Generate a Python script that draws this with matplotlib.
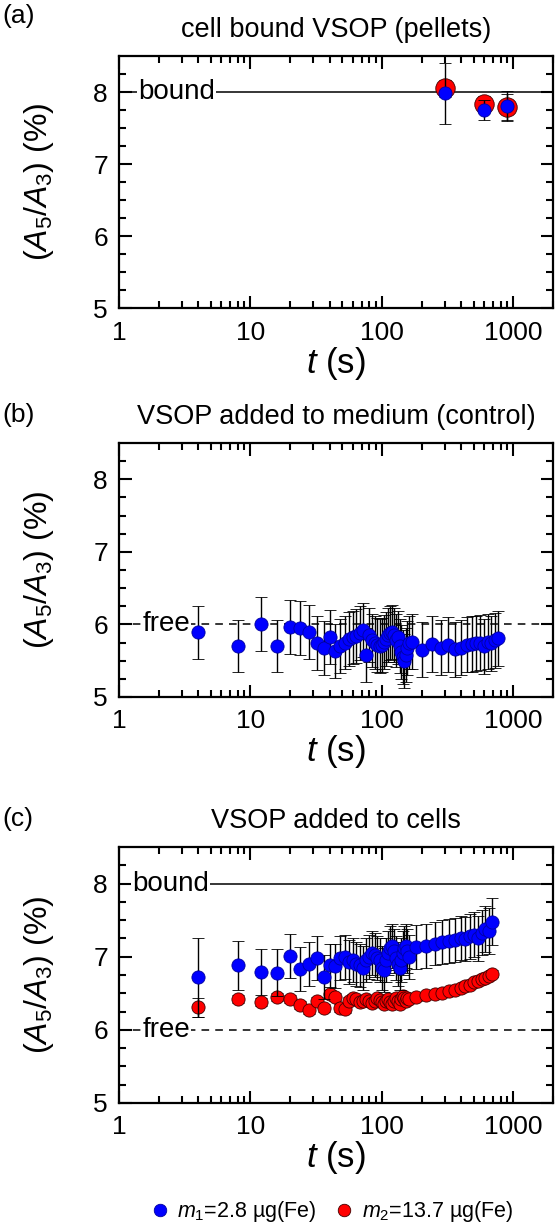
import matplotlib
matplotlib.use('Agg')
import matplotlib.pyplot as plt
from matplotlib.lines import Line2D
from matplotlib.ticker import FixedLocator, LogLocator, NullFormatter

plt.rcParams['font.family'] = ['Liberation Sans', 'DejaVu Sans']
plt.rcParams['mathtext.fontset'] = 'custom'
plt.rcParams['mathtext.rm'] = 'Liberation Sans'
plt.rcParams['mathtext.it'] = 'Liberation Sans:italic'

# ---- (a) cell bound VSOP (pellets)
t_a = [300, 600, 900]
a_m1 = [7.98, 7.75, 7.81]
a_m1_err = [0.42, 0.14, 0.21]
a_m2 = [8.05, 7.84, 7.79]
a_m2_err = [0.12, 0.10, 0.18]

# ---- (b) VSOP added to medium (control)
t_b = [4, 8, 12, 16, 20, 24, 28, 32, 36, 40, 44, 48, 52, 56, 60, 64, 68, 72, 76, 80,
       84, 88, 92, 96, 100, 104, 108, 112, 116, 120, 124, 128, 132, 136, 140, 144, 148, 152, 156, 160,
       168, 200, 240, 280, 320, 360, 400, 440, 480, 520, 560, 600, 640, 680, 720, 760]
b_m1 = [5.89, 5.70, 6.01, 5.70, 5.96, 5.95, 5.90, 5.74, 5.68, 5.83, 5.63, 5.70, 5.75, 5.80, 5.82, 5.84, 5.88, 5.92, 5.58, 5.85,
        5.78, 5.75, 5.72, 5.70, 5.72, 5.76, 5.80, 5.85, 5.88, 5.90, 5.85, 5.78, 5.82, 5.70, 5.62, 5.55, 5.50, 5.58, 5.68, 5.75,
        5.76, 5.65, 5.73, 5.68, 5.72, 5.66, 5.68, 5.72, 5.73, 5.74, 5.75, 5.70, 5.76, 5.74, 5.78, 5.81]
b_m1_err = [0.36, 0.36, 0.37, 0.36, 0.37, 0.37, 0.37, 0.37, 0.37, 0.37, 0.37, 0.37, 0.37, 0.37, 0.37, 0.37, 0.37, 0.37, 0.37, 0.37,
            0.37, 0.37, 0.37, 0.37, 0.37, 0.37, 0.37, 0.37, 0.37, 0.37, 0.37, 0.37, 0.37, 0.37, 0.37, 0.37, 0.37, 0.37, 0.37, 0.37,
            0.38, 0.38, 0.38, 0.38, 0.38, 0.38, 0.38, 0.38, 0.38, 0.38, 0.38, 0.38, 0.38, 0.38, 0.38, 0.38]

# ---- (c) VSOP added to cells
t_c = [4, 8, 12, 16, 20, 24, 28, 32, 36, 40, 44, 48, 52, 56, 60, 64, 68, 72, 76, 80,
       84, 88, 92, 96, 100, 104, 108, 112, 116, 120, 124, 128, 132, 136, 140, 144, 148, 152, 156, 160,
       180, 216, 252, 288, 324, 360, 396, 432, 468, 504, 540, 576, 612, 648, 684]
c_m1 = [6.72, 6.88, 6.79, 6.78, 7.01, 6.83, 6.90, 6.98, 6.72, 6.88, 6.87, 6.98, 7.00, 6.93, 6.95, 6.90, 6.88, 6.85, 6.95, 7.00,
        7.05, 7.02, 6.98, 6.95, 6.85, 6.82, 6.95, 7.05, 7.12, 7.15, 7.08, 6.98, 6.90, 6.85, 6.95, 7.05, 7.12, 7.15, 7.08, 7.00,
        7.13, 7.15, 7.18, 7.20, 7.21, 7.23, 7.25, 7.24, 7.28, 7.30, 7.25, 7.33, 7.38, 7.35, 7.48]
c_m1_err = [0.54, 0.33, 0.32, 0.32, 0.30, 0.30, 0.30, 0.30, 0.30, 0.30, 0.30, 0.30, 0.30, 0.30, 0.30, 0.30, 0.30, 0.30, 0.30, 0.30,
            0.30, 0.30, 0.30, 0.30, 0.30, 0.30, 0.30, 0.30, 0.30, 0.30, 0.30, 0.30, 0.30, 0.30, 0.30, 0.30, 0.30, 0.30, 0.30, 0.30,
            0.30, 0.30, 0.30, 0.30, 0.30, 0.30, 0.30, 0.30, 0.31, 0.31, 0.31, 0.31, 0.31, 0.31, 0.32]
c_m2 = [6.31, 6.42, 6.38, 6.45, 6.42, 6.34, 6.27, 6.40, 6.30, 6.49, 6.45, 6.30, 6.28, 6.40, 6.44, 6.42, 6.38, 6.40, 6.42, 6.39,
        6.37, 6.40, 6.43, 6.41, 6.38, 6.36, 6.40, 6.42, 6.38, 6.35, 6.40, 6.44, 6.40, 6.36, 6.42, 6.46, 6.43, 6.40, 6.44, 6.42,
        6.45, 6.47, 6.49, 6.51, 6.53, 6.55, 6.57, 6.60, 6.62, 6.65, 6.67, 6.69, 6.71, 6.74, 6.77]
c_m2_err = [0.13, 0.05, 0.05, 0.05, 0.05, 0.05, 0.05, 0.05, 0.05, 0.05, 0.05, 0.05, 0.05, 0.05, 0.05, 0.05, 0.05, 0.05, 0.05, 0.05,
            0.05, 0.05, 0.05, 0.05, 0.05, 0.05, 0.05, 0.05, 0.05, 0.05, 0.05, 0.05, 0.05, 0.05, 0.05, 0.05, 0.05, 0.05, 0.05, 0.05,
            0.05, 0.05, 0.05, 0.05, 0.05, 0.05, 0.05, 0.05, 0.05, 0.05, 0.05, 0.05, 0.05, 0.05, 0.05]

bound_level = 8.0
free_level = 6.0
titles = ['cell bound VSOP (pellets)', 'VSOP added to medium (control)', 'VSOP added to cells']
panel_tags = ['(a)', '(b)', '(c)']
legend_labels = [r'$m_1$=2.8 µg(Fe)', r'$m_2$=13.7 µg(Fe)']

BLUE = '#0000ff'
RED = '#ff0000'

fig = plt.figure(figsize=(5.57, 12.27), dpi=100)
W, H = 557.0, 1227.0
boxes = [(56, 308), (443, 697), (847, 1103)]  # top/bottom in px
axes = []
for top, bot in boxes:
    ax = fig.add_axes([119 / W, 1 - bot / H, 434 / W, (bot - top) / H])
    axes.append(ax)


def style(ax):
    ax.set_xscale('log')
    ax.set_xlim(1, 2000)
    ax.set_ylim(5, 8.5)
    ax.yaxis.set_major_locator(FixedLocator([5, 6, 7, 8]))
    ax.yaxis.set_minor_locator(FixedLocator([5.25, 5.5, 5.75, 6.25, 6.5, 6.75, 7.25, 7.5, 7.75, 8.25]))
    ax.xaxis.set_major_locator(FixedLocator([1, 10, 100, 1000]))
    ax.xaxis.set_minor_locator(LogLocator(base=10, subs=range(2, 10), numticks=20))
    ax.xaxis.set_minor_formatter(NullFormatter())
    ax.set_xticklabels(['1', '10', '100', '1000'])
    ax.tick_params(which='both', direction='in', top=True, right=True, width=1.5, labelsize=19)
    ax.tick_params(which='major', length=9)
    ax.tick_params(which='minor', length=5)
    ax.tick_params(axis='x', pad=9)
    ax.tick_params(axis='y', pad=8)
    for s in ax.spines.values():
        s.set_linewidth(1.6)
    ax.set_xlabel(r'$t$ (s)', fontsize=25, labelpad=0)
    ax.set_ylabel(r'$(A_5/A_3)$ (%)', fontsize=23)
    ax.yaxis.set_label_coords(-0.145, 0.5)


def ref_line(ax, y, text, x_text, ls):
    ax.axhline(y, color='black', lw=1.1, ls=ls, dashes=(5, 4) if ls == '--' else (None, None), zorder=1)
    ax.text(x_text, y, text, fontsize=20, ha='left', va='center', zorder=2,
            bbox=dict(facecolor='white', edgecolor='none', pad=0.8))


eb = dict(fmt='o', ecolor='black', elinewidth=1.0, capsize=4.5, capthick=1.0)

# (a)
ax = axes[0]
style(ax)
ref_line(ax, bound_level, 'bound', 1.4, '-')
ax.errorbar(t_a, a_m2, yerr=a_m2_err, ms=14, mfc=RED, mec='#400000', mew=0.6, zorder=3, **eb)
ax.errorbar(t_a, a_m1, yerr=a_m1_err, ms=9.5, mfc=BLUE, mec='#0000a0', mew=0.6, zorder=4, **eb)

# (b)
ax = axes[1]
style(ax)
ref_line(ax, free_level, 'free', 1.5, '--')
ax.errorbar(t_b, b_m1, yerr=b_m1_err, ms=9.5, mfc=BLUE, mec='#0000a0', mew=0.6, zorder=3, **eb)

# (c)
ax = axes[2]
style(ax)
ref_line(ax, bound_level, 'bound', 1.25, '-')
ref_line(ax, free_level, 'free', 1.5, '--')
ax.errorbar(t_c, c_m2, yerr=c_m2_err, ms=9.5, mfc=RED, mec='#400000', mew=0.6, zorder=3, **eb)
ax.errorbar(t_c, c_m1, yerr=c_m1_err, ms=9.5, mfc=BLUE, mec='#0000a0', mew=0.6, zorder=4, **eb)

for ax, title, tag, (top, bot) in zip(axes, titles, panel_tags, boxes):
    ax.set_title(title, fontsize=19.5, pad=14)
    ty = 16 if tag == '(a)' else top - 28
    fig.text(2 / W, 1 - ty / H, tag, fontsize=19, ha='left', va='center')

handles = [Line2D([], [], ls='none', marker='o', ms=9, mfc=BLUE, mec='#0000a0', mew=0.6),
           Line2D([], [], ls='none', marker='o', ms=9, mfc=RED, mec='#400000', mew=0.6)]
fig.legend(handles, legend_labels, loc='center', bbox_to_anchor=(331 / W, 1 - 1212 / H), ncol=2,
           frameon=False, fontsize=15.5, handletextpad=0.3, columnspacing=0.8, handlelength=1.0)

fig.savefig('out.png', dpi=100)
